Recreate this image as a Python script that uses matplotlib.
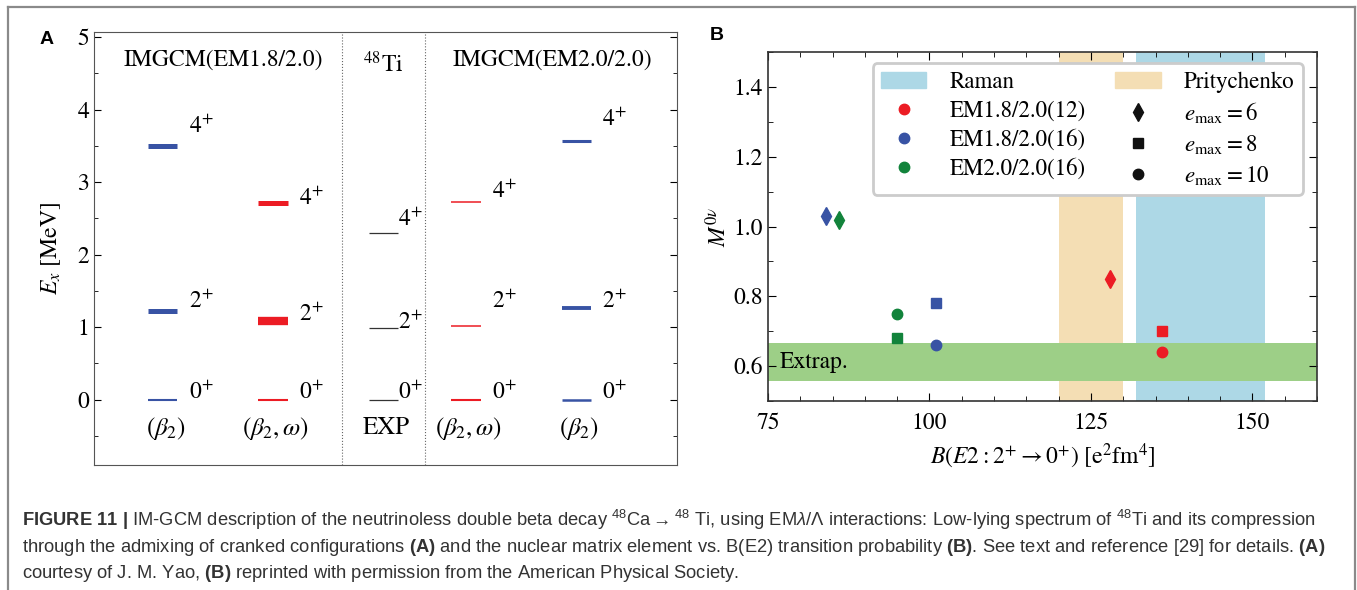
import matplotlib
matplotlib.use("Agg")
import matplotlib.pyplot as plt
from matplotlib.lines import Line2D
from matplotlib.patches import Patch
from matplotlib.ticker import MultipleLocator

plt.rcParams['font.family'] = ['STIXGeneral', 'DejaVu Serif']
plt.rcParams['mathtext.fontset'] = 'stix'
plt.rcParams['mathtext.rm'] = 'Liberation Sans'
plt.rcParams['mathtext.it'] = 'Liberation Sans:italic'
plt.rcParams['mathtext.bf'] = 'Liberation Sans:bold'

# ---- panel A data: 48Ti low-lying spectrum
col_labels = [r'$(\beta_2)$', r'$(\beta_2,\omega)$', 'EXP', r'$(\beta_2,\omega)$', r'$(\beta_2)$']
e_4plus = [3.50, 2.71, 2.296, 2.72, 3.57]
e_2plus = [1.23, 1.08, 0.984, 1.02, 1.27]
e_0plus = [0.0, 0.0, 0.0, 0.0, 0.0]

# ---- panel B data: M0v vs B(E2)
series_names = ['EM1.8/2.0(12)', 'EM1.8/2.0(16)', 'EM2.0/2.0(16)']
be2_e6 = [128, 84, 86]
m0v_e6 = [0.85, 1.03, 1.02]
be2_e8 = [136, 101, 95]
m0v_e8 = [0.70, 0.78, 0.68]
be2_e10 = [136, 101, 95]
m0v_e10 = [0.64, 0.66, 0.75]
raman_range = [132, 152]
prity_range = [120, 130]
extrap_range = [0.557, 0.665]

# styles / layout
BLUE = '#3853a4'
RED = '#ec1c24'
GREEN = '#12833b'
col_x = [1.18, 3.07, 4.96, 6.38, 8.27]
col_color = [BLUE, RED, '#333333', RED, BLUE]
lw4 = [3.6, 3.6, 0.9, 1.1, 2.2]
lw2 = [3.6, 6.0, 0.9, 1.1, 2.8]
lw0 = [1.5, 1.5, 0.9, 1.5, 1.8]
lab4_y = [3.76, 2.77, 2.48, 2.87, 3.86]
lab2_y = [1.35, 1.17, 1.06, 1.35, 1.35]
half_w = 0.25
FS = 17

fig = plt.figure(figsize=(13.57, 5.90), dpi=100)

# outer frame
frame_kw = dict(color='#8a8a8a', lw=1.6, transform=fig.transFigure)
fig.add_artist(Line2D([8 / 1357, 8 / 1357], [0, 1 - 7 / 590], **frame_kw))
fig.add_artist(Line2D([8 / 1357, 1355 / 1357], [1 - 7 / 590, 1 - 7 / 590], **frame_kw))
fig.add_artist(Line2D([1355 / 1357, 1355 / 1357], [0, 1 - 7 / 590], **frame_kw))

# ---------------- panel A
axA = fig.add_axes([94 / 1357, 1 - 465 / 590, 583 / 1357, 433 / 590])
for i in range(len(col_x)):
    xc = col_x[i]
    c = col_color[i]
    axA.hlines(e_4plus[i], xc - half_w, xc + half_w, color=c, lw=lw4[i])
    axA.hlines(e_2plus[i], xc - half_w, xc + half_w, color=c, lw=lw2[i])
    axA.hlines(e_0plus[i], xc - half_w, xc + half_w, color=c, lw=lw0[i])
    gap = 0.0 if col_labels[i] == 'EXP' else 0.2
    lx = xc + half_w + gap
    axA.text(lx, lab4_y[i], r'$4^{+}$', fontsize=FS, va='center', ha='left')
    axA.text(lx, lab2_y[i], r'$2^{+}$', fontsize=FS, va='center', ha='left')
    axA.text(lx, 0.10, r'$0^{+}$', fontsize=FS, va='center', ha='left')
    axA.text(xc + 0.05, -0.39, col_labels[i], fontsize=FS + 1, va='center', ha='center')

axA.axvline(4.25, color='#666666', lw=0.8, ls=':')
axA.axvline(5.68, color='#666666', lw=0.8, ls=':')
axA.text(2.21, 4.68, 'IMGCM(EM1.8/2.0)', fontsize=FS, ha='center', va='center')
axA.text(4.96, 4.62, r'$^{48}$Ti', fontsize=FS, ha='center', va='center')
axA.text(7.87, 4.68, 'IMGCM(EM2.0/2.0)', fontsize=FS, ha='center', va='center')

axA.set_xlim(0, 10)
axA.set_ylim(-0.9, 5.07)
axA.set_xticks([])
axA.yaxis.set_major_locator(MultipleLocator(1))
axA.yaxis.set_minor_locator(MultipleLocator(0.5))
axA.tick_params(axis='y', which='both', direction='in', right=True, labelsize=FS)
axA.tick_params(axis='y', which='major', length=5)
axA.tick_params(axis='y', which='minor', length=3)
axA.set_ylabel(r'$E_x$ [MeV]', fontsize=FS, labelpad=10)
for s in axA.spines.values():
    s.set_color('#555555')

# ---------------- panel B
axB = fig.add_axes([768 / 1357, 1 - 401 / 590, 549 / 1357, 349 / 590])
axB.axvspan(raman_range[0], raman_range[1], color='#add8e6', lw=0, zorder=0)
axB.axvspan(prity_range[0], prity_range[1], color='#f4deb4', lw=0, zorder=0)
axB.axhspan(extrap_range[0], extrap_range[1], color='#9dcf87', lw=0, zorder=1)
axB.text(76.8, 0.612, 'Extrap.', fontsize=FS, va='center', ha='left', zorder=3)

colors = [RED, BLUE, GREEN]
for i in range(len(series_names)):
    axB.plot(be2_e6[i], m0v_e6[i], marker='d', ms=9, color=colors[i], ls='', zorder=3)
    axB.plot(be2_e8[i], m0v_e8[i], marker='s', ms=7.5, color=colors[i], ls='', zorder=3)
    axB.plot(be2_e10[i], m0v_e10[i], marker='o', ms=7.5, color=colors[i], ls='', zorder=3)

axB.set_xlim(75, 160)
axB.set_ylim(0.5, 1.5)
axB.xaxis.set_major_locator(MultipleLocator(25))
axB.xaxis.set_minor_locator(MultipleLocator(5))
axB.yaxis.set_major_locator(MultipleLocator(0.2))
axB.yaxis.set_minor_locator(MultipleLocator(0.1))
axB.set_yticks([0.6, 0.8, 1.0, 1.2, 1.4])
axB.tick_params(which='both', direction='in', top=True, right=True, labelsize=FS)
axB.tick_params(which='major', length=6)
axB.tick_params(which='minor', length=3.5)
axB.tick_params(axis='x', pad=8)
axB.set_xlabel(r'$B(E2:2^{+}\rightarrow 0^{+})$ [e$^2$fm$^4$]', fontsize=FS, labelpad=6)
axB.set_ylabel(r'$M^{0\nu}$', fontsize=FS, labelpad=2)
for s in axB.spines.values():
    s.set_color('#333333')
    s.set_linewidth(1.2)

handles = [Patch(color='#add8e6', label='Raman')]
for i in range(len(series_names)):
    handles.append(Line2D([], [], marker='o', ms=7.5, color=colors[i], ls='', label=series_names[i]))
handles.append(Patch(color='#f4deb4', label='Pritychenko'))
handles.append(Line2D([], [], marker='d', ms=9, color='#111111', ls='', label=r'$e_{\rm max}=6$'))
handles.append(Line2D([], [], marker='s', ms=7.5, color='#111111', ls='', label=r'$e_{\rm max}=8$'))
handles.append(Line2D([], [], marker='o', ms=7.5, color='#111111', ls='', label=r'$e_{\rm max}=10$'))
leg = axB.legend(handles=handles, ncol=2, loc='upper right', bbox_to_anchor=(0.995, 1.0),
                 fontsize=FS - 0.5, frameon=True, fancybox=True, framealpha=1,
                 handlelength=2.0, handletextpad=1.0, columnspacing=1.3, labelspacing=0.33,
                 borderpad=0.35)
leg.get_frame().set_edgecolor('#cccccc')
leg.get_frame().set_linewidth(2)

# panel letters
fig.text(47 / 1357, 1 - 40 / 590, 'A', fontsize=14, fontweight='bold', family='Liberation Sans',
         ha='center', va='center')
fig.text(717 / 1357, 1 - 35 / 590, 'B', fontsize=14, fontweight='bold', family='Liberation Sans',
         ha='center', va='center')

# caption
cap_lines = [
    r'$\bf{FIGURE\ 11\ |}$ IM-GCM description of the neutrinoless double beta decay $^{48}$Ca$\rightarrow^{48}$ Ti, '
    r'using EM$\lambda/\Lambda$ interactions: Low-lying spectrum of $^{48}$Ti and its compression',
    r'through the admixing of cranked configurations $\bf{(A)}$ and the nuclear matrix element vs. B(E2) '
    r'transition probability $\bf{(B)}$. See text and reference [29] for details. $\bf{(A)}$',
    r'courtesy of J. M. Yao, $\bf{(B)}$ reprinted with permission from the American Physical Society.',
]
cap_y = [520, 547, 573]
for line, y in zip(cap_lines, cap_y):
    fig.text(22 / 1357, 1 - y / 590, line, fontsize=13.2, family='Liberation Sans',
             math_fontfamily='custom', color='#333333', ha='left', va='center')

fig.savefig('out.png', dpi=100)
